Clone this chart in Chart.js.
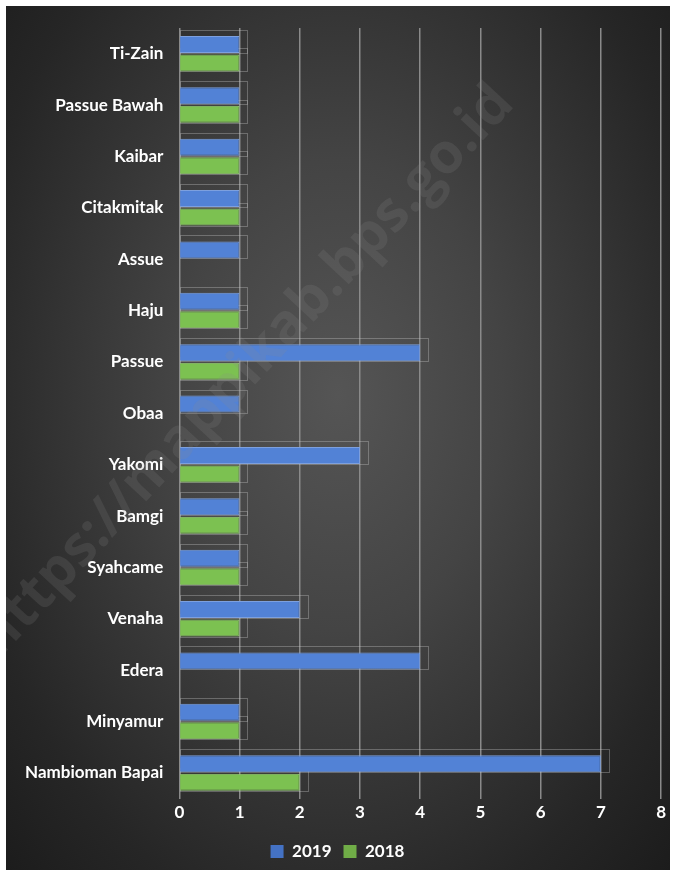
<!DOCTYPE html>
<html><head><meta charset="utf-8">
<script src="https://cdn.jsdelivr.net/npm/chart.js@4"></script>
<style>
html,body{margin:0;padding:0;background:#fff;}
#wrap{position:absolute;left:6px;top:6px;width:664px;height:864px;
background:radial-gradient(ellipse at 50% 45%, #555555 0%, #444444 35%, #262626 80%, #1c1c1c 100%);}
canvas{display:block;}
</style></head>
<body>
<div id="wrap"><canvas id="c" width="664" height="864"></canvas></div>
<script>
const categories = ["Ti-Zain","Passue Bawah","Kaibar","Citakmitak","Assue","Haju","Passue","Obaa","Yakomi","Bamgi","Syahcame","Venaha","Edera","Minyamur","Nambioman Bapai"];
const values2019 = [1,1,1,1,1,1,4,1,3,1,1,2,4,1,7];
const values2018 = [1,1,1,1,0,1,1,0,1,1,1,1,0,1,2];
const xTicks = [0,1,2,3,4,5,6,7,8];
const watermark = "https://mappikab.bps.go.id";

const ctx = document.getElementById('c').getContext('2d');
function grad(c1,c2){
  return (context)=>{
    const ch = context.chart; const a = ch.chartArea; if(!a) return c1;
    const el = context.element;
    if(!el || el.height===undefined) return c1;
    const g = ch.ctx.createLinearGradient(0, el.y - el.height/2, 0, el.y + el.height/2);
    g.addColorStop(0,c1); g.addColorStop(1,c2); return g;
  };
}
const framePlugin = {
  id:'frames',
  beforeDatasetsDraw(chart){
    const c = chart.ctx; c.save();
    c.strokeStyle='rgba(200,200,200,0.35)'; c.lineWidth=1;
    chart.data.datasets.forEach((d,di)=>{
      chart.getDatasetMeta(di).data.forEach((el,i)=>{
        if(!d.data[i]) return;
        const h = el.height; const x0 = el.base; const x1 = el.x;
        c.strokeRect(Math.round(x0)+0.5, Math.round(el.y-h/2-6)+0.5, Math.round(x1-x0+8), Math.round(h+6));
      });
    });
    c.restore();
  }
};
const wmPlugin = {
  id:'wm',
  afterDatasetsDraw(chart){
    const c = chart.ctx; c.save();
    c.translate(240,365); c.rotate(-47*Math.PI/180);
    c.font = 'bold 56px "Open Sans", sans-serif';
    c.fillStyle = 'rgba(140,140,140,0.18)';
    c.textAlign='center'; c.textBaseline='middle';
    c.fillText(watermark,0,0); c.restore();
  }
};
new Chart(ctx,{
  type:'bar',
  data:{labels:categories,datasets:[
    {label:'2019',data:values2019,backgroundColor:grad('#5282d6','#3a64b4'),borderColor:'#7da0de',borderWidth:1,borderSkipped:'start'},
    {label:'2018',data:values2018,backgroundColor:grad('#7cc151','#62a83c'),borderColor:'#9bd07a',borderWidth:1,borderSkipped:'start'}
  ]},
  options:{
    indexAxis:'y',responsive:false,animation:false,
    layout:{padding:{left:7,right:8,top:22,bottom:0}},
    datasets:{bar:{categoryPercentage:0.72,barPercentage:0.92}},
    scales:{
      x:{min:0,max:8,afterBuildTicks(ax){ax.ticks=xTicks.map(v=>({value:v}));},
        afterFit(ax){ax.height+=4;},
        grid:{color:'#8a8a8a',lineWidth:1.5,drawTicks:false},border:{display:false},
        ticks:{color:'#ffffff',padding:4,font:{family:'Lato',weight:'bold',size:17}}},
      y:{grid:{display:false},border:{display:false},
        afterFit(ax){ax.width+=4;},
        ticks:{color:'#ffffff',padding:8,font:{family:'Lato',weight:'bold',size:17}}}
    },
    plugins:{
      legend:{position:'bottom',labels:{color:'#ffffff',boxWidth:13,boxHeight:13,padding:12,
        font:{family:'Lato',weight:'bold',size:17},
        generateLabels(chart){return chart.data.datasets.map((d,i)=>({text:d.label,fillStyle:i===0?'#4472c4':'#70ad47',strokeStyle:'transparent',lineWidth:0,fontColor:'#fff',datasetIndex:i}));}}},
      tooltip:{enabled:false}
    }
  },
  plugins:[framePlugin,wmPlugin]
});
</script>
</body></html>
